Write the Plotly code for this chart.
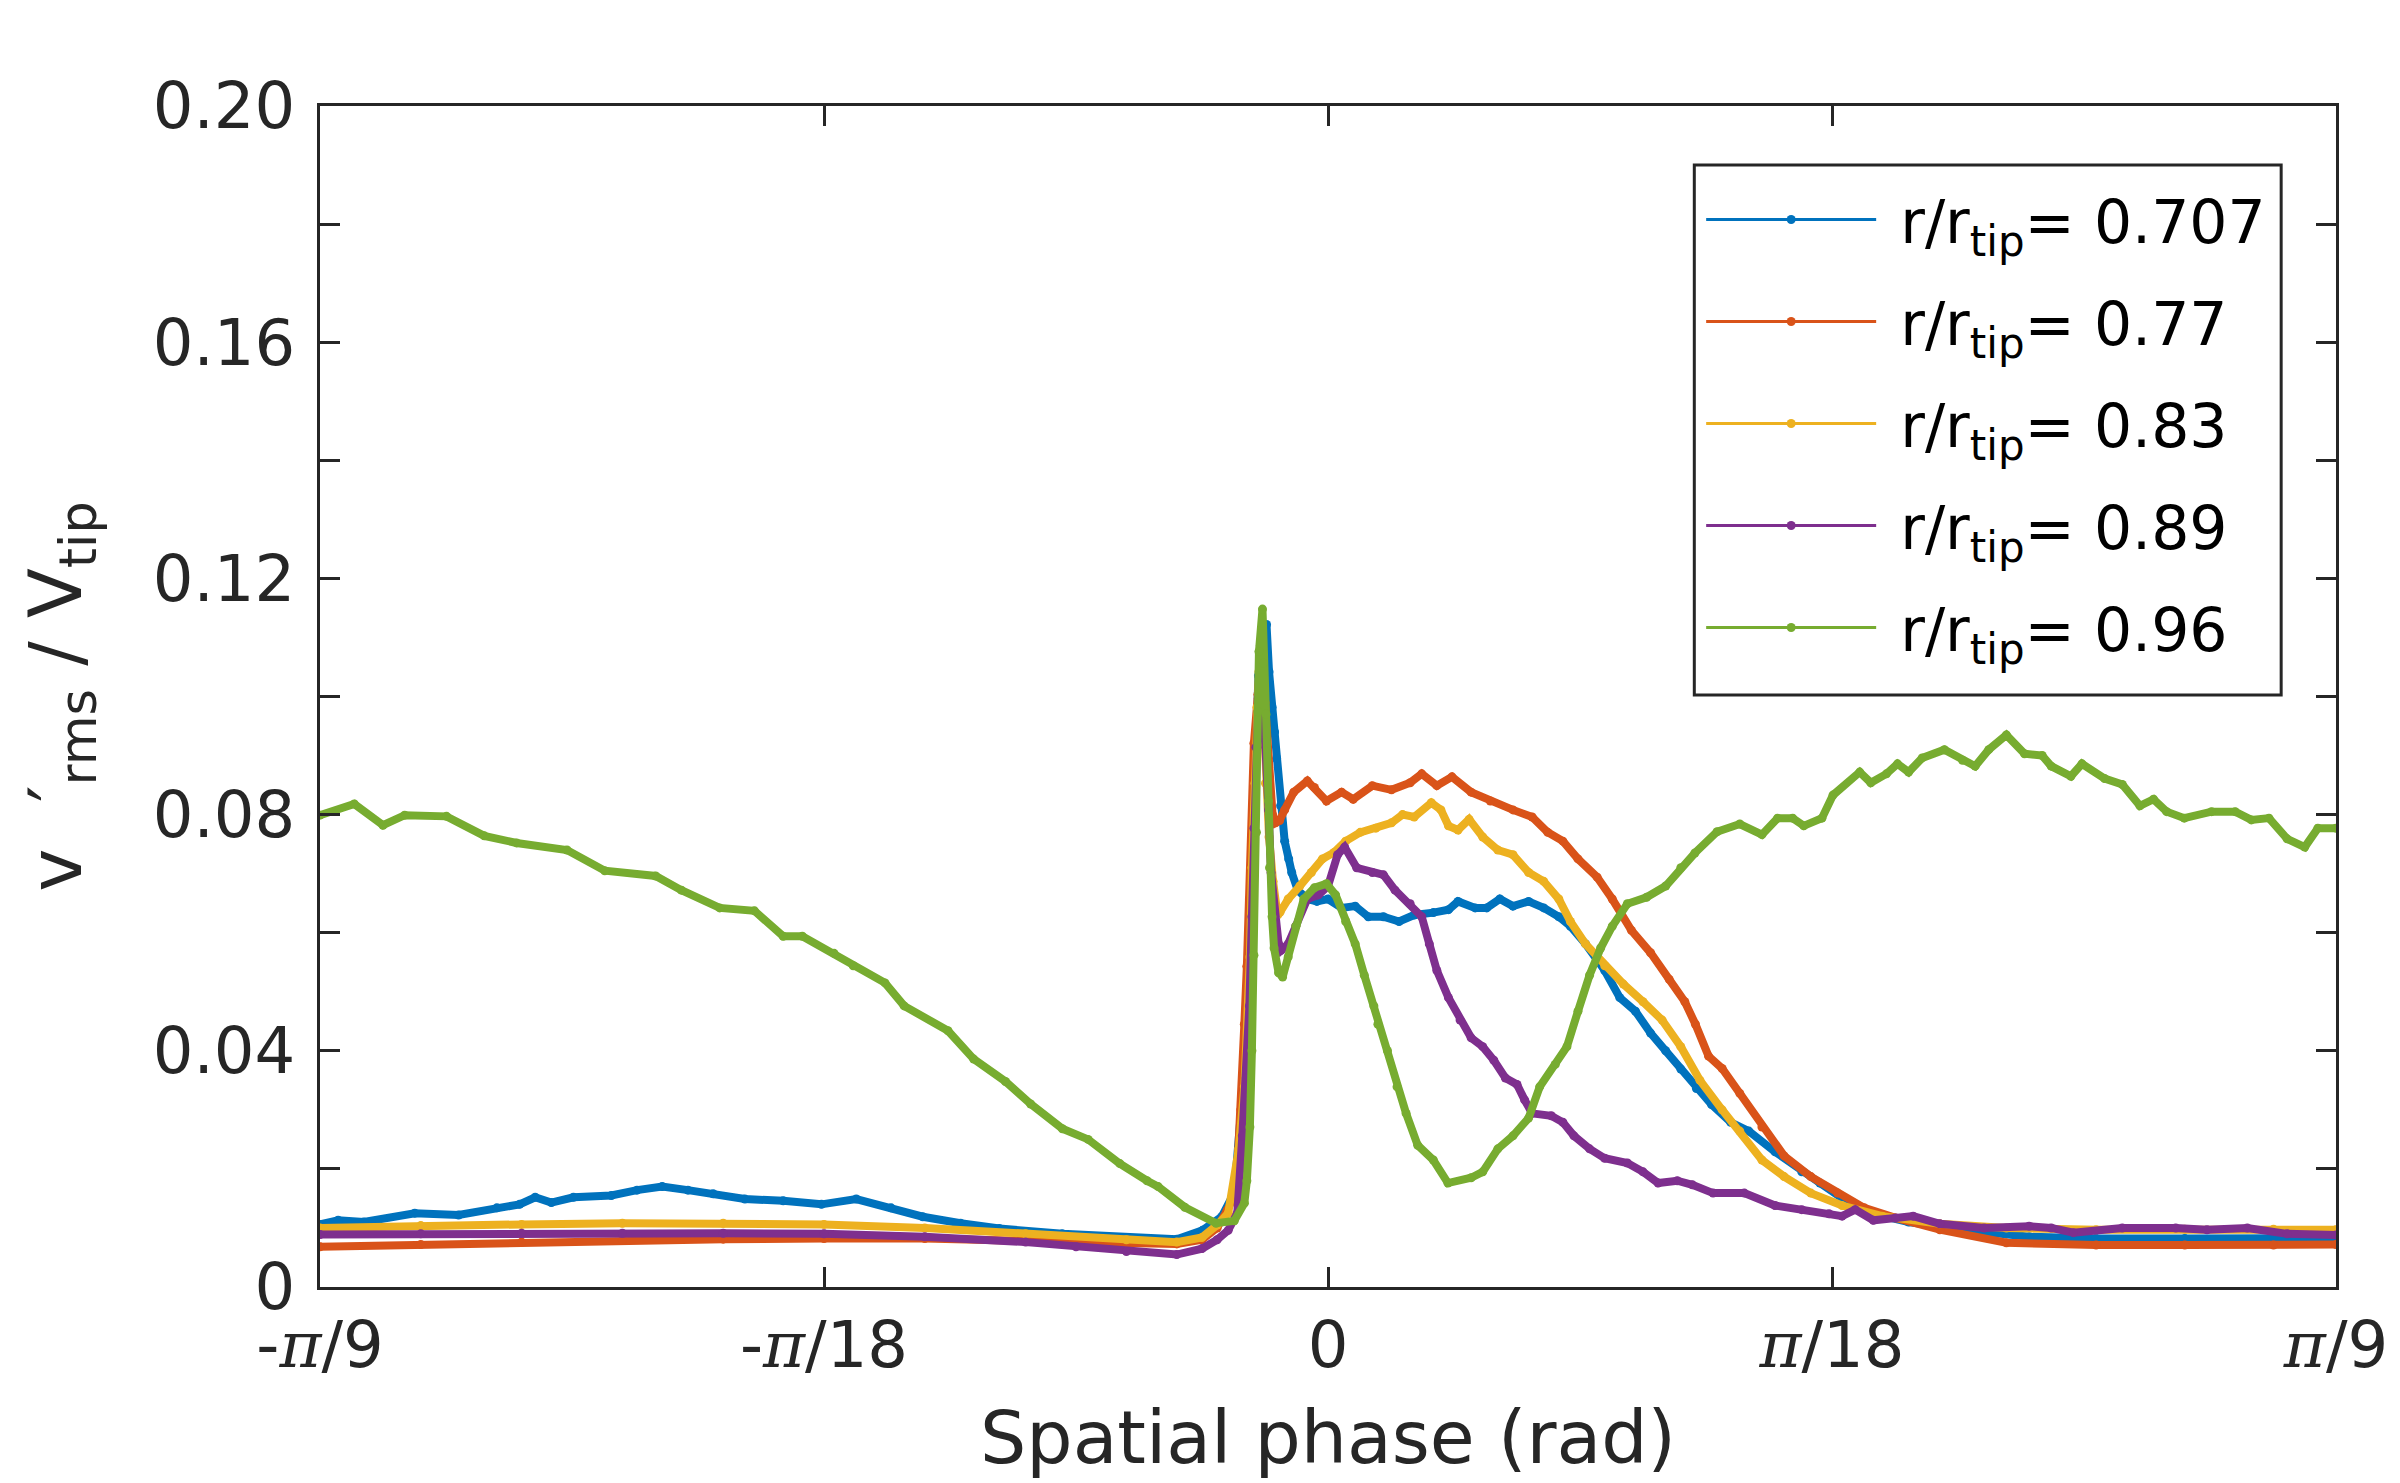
import numpy as np
import plotly.graph_objects as go

# Spatial phase in degrees (converted to radians for plotting), value = v'_rms / V_tip
r0707 = [(-20.0, 0.0106), (-19.64, 0.0113), (-19.13, 0.0110), (-18.12, 0.0125), (-17.25, 0.0122),
         (-16.49, 0.0134), (-16.04, 0.0140), (-15.73, 0.0152), (-15.41, 0.0143), (-14.97, 0.0152),
         (-14.22, 0.0155), (-13.71, 0.0164), (-13.21, 0.0170), (-12.7, 0.0164), (-12.2, 0.0158),
         (-11.57, 0.0149), (-10.81, 0.0146), (-10.05, 0.0140), (-9.36, 0.0149), (-8.67, 0.0134),
         (-8.04, 0.0119), (-7.29, 0.0108), (-6.52, 0.0099), (-5.27, 0.0090), (-4.0, 0.0084),
         (-3.0, 0.0081), (-2.49, 0.0096), (-2.11, 0.0119), (-1.86, 0.0160), (-1.70, 0.0324),
         (-1.61, 0.0476), (-1.53, 0.0702), (-1.45, 0.0914), (-1.38, 0.1035), (-1.30, 0.1099),
         (-1.22, 0.1122), (-1.17, 0.1042), (-1.11, 0.0982), (-1.06, 0.0940), (-1.02, 0.0895),
         (-0.94, 0.0815), (-0.86, 0.0755), (-0.78, 0.0725), (-0.72, 0.0702), (-0.60, 0.0672),
         (-0.41, 0.0657), (-0.22, 0.0653), (0.0, 0.0657), (0.27, 0.0642), (0.54, 0.0645),
         (0.80, 0.0627), (1.1, 0.0627), (1.41, 0.0619), (1.71, 0.0630), (2.09, 0.0634),
         (2.39, 0.0639), (2.58, 0.0653), (2.92, 0.0642), (3.15, 0.0642), (3.41, 0.0657),
         (3.67, 0.0645), (3.98, 0.0653), (4.28, 0.0642), (4.58, 0.0627), (4.81, 0.0611),
         (5.11, 0.0581), (5.49, 0.0536), (5.79, 0.0490), (6.1, 0.0467), (6.4, 0.0430),
         (6.70, 0.0400), (7.0, 0.0369), (7.31, 0.0336), (7.61, 0.0309), (7.99, 0.0279),
         (8.35, 0.0264), (8.87, 0.0229), (9.4, 0.0195), (9.76, 0.0176), (10.29, 0.0145),
         (10.82, 0.0124), (11.52, 0.0110), (12.59, 0.0097), (13.92, 0.0085), (15.24, 0.0082),
         (17.0, 0.0082), (18.76, 0.0082), (20.0, 0.0083)]

r077 = [(-20.0, 0.0068), (-18.0, 0.0072), (-16.0, 0.0076), (-14.0, 0.0079), (-12.0, 0.0081),
        (-10.0, 0.0082), (-8.0, 0.0082), (-6.0, 0.0078), (-4.0, 0.0074), (-3.0, 0.0073),
        (-2.5, 0.0080), (-2.2, 0.0100), (-2.0, 0.0130), (-1.86, 0.0155), (-1.80, 0.0196),
        (-1.73, 0.0300), (-1.66, 0.0445), (-1.61, 0.0543), (-1.56, 0.0657), (-1.51, 0.0762),
        (-1.47, 0.0921), (-1.39, 0.1004), (-1.32, 0.1080), (-1.25, 0.0990), (-1.18, 0.0880),
        (-1.10, 0.0800), (-1.04, 0.0786), (-0.96, 0.0790), (-0.86, 0.0808), (-0.68, 0.0838),
        (-0.41, 0.0857), (-0.27, 0.0846), (-0.03, 0.0823), (0.27, 0.0838), (0.5, 0.0826),
        (0.88, 0.0849), (1.26, 0.0842), (1.63, 0.0854), (1.86, 0.0869), (2.16, 0.0849),
        (2.46, 0.0864), (2.84, 0.0838), (3.22, 0.0823), (3.67, 0.0808), (4.05, 0.0796),
        (4.36, 0.0770), (4.66, 0.0755), (4.96, 0.0725), (5.34, 0.0694), (5.64, 0.0657),
        (6.02, 0.0604), (6.4, 0.0566), (6.77, 0.0521), (7.08, 0.0483), (7.29, 0.0445),
        (7.55, 0.0391), (7.82, 0.0370), (8.17, 0.0328), (8.61, 0.0271), (9.05, 0.0222),
        (9.58, 0.0187), (10.11, 0.0159), (10.64, 0.0134), (11.26, 0.0117), (12.14, 0.0097),
        (13.46, 0.0075), (15.24, 0.0071), (17.0, 0.0071), (18.76, 0.0071), (20.0, 0.0072)]

r083 = [(-20.0, 0.0100), (-18.0, 0.0104), (-16.0, 0.0106), (-14.0, 0.0108), (-12.0, 0.0108),
        (-10.0, 0.0106), (-8.0, 0.0100), (-6.0, 0.0090), (-4.0, 0.0080), (-3.0, 0.0076),
        (-2.5, 0.0084), (-2.2, 0.0105), (-1.98, 0.0125), (-1.77, 0.0234), (-1.66, 0.0339),
        (-1.60, 0.0437), (-1.55, 0.0559), (-1.51, 0.0710), (-1.45, 0.0853), (-1.41, 0.0982),
        (-1.37, 0.1042), (-1.32, 0.1050), (-1.24, 0.0853), (-1.17, 0.0762), (-1.09, 0.0687),
        (-1.02, 0.0642), (-0.95, 0.0635), (-0.79, 0.0657), (-0.56, 0.0679), (-0.33, 0.0702),
        (-0.11, 0.0725), (0.12, 0.0736), (0.35, 0.0755), (0.64, 0.0770), (0.95, 0.0777),
        (1.26, 0.0786), (1.48, 0.0800), (1.71, 0.0796), (2.05, 0.0820), (2.24, 0.0808),
        (2.39, 0.0781), (2.58, 0.0774), (2.8, 0.0792), (3.07, 0.0762), (3.37, 0.0740),
        (3.67, 0.0732), (3.98, 0.0702), (4.28, 0.0687), (4.58, 0.0657), (4.81, 0.0619),
        (5.11, 0.0581), (5.49, 0.0544), (5.86, 0.0513), (6.25, 0.0483), (6.63, 0.0452),
        (7.0, 0.0407), (7.38, 0.0350), (7.82, 0.0300), (8.17, 0.0264), (8.61, 0.0215),
        (9.05, 0.0187), (9.58, 0.0159), (10.2, 0.0138), (11.0, 0.0120), (12.14, 0.0107),
        (13.46, 0.0100), (15.24, 0.0097), (17.0, 0.0098), (18.76, 0.0098), (20.0, 0.0097)]

r089 = [(-20.0, 0.0089), (-18.0, 0.0090), (-16.0, 0.0091), (-14.0, 0.0091), (-12.0, 0.0091),
        (-10.0, 0.0090), (-8.0, 0.0085), (-6.0, 0.0076), (-5.0, 0.0068), (-4.0, 0.0060),
        (-3.0, 0.0055), (-2.5, 0.0065), (-2.2, 0.0080), (-1.98, 0.0096), (-1.8, 0.0125),
        (-1.70, 0.0256), (-1.62, 0.0354), (-1.56, 0.0476), (-1.51, 0.0627), (-1.47, 0.0777),
        (-1.43, 0.0914), (-1.38, 0.0997), (-1.34, 0.1087), (-1.28, 0.0997), (-1.23, 0.0914),
        (-1.18, 0.0808), (-1.13, 0.0702), (-1.06, 0.0627), (-0.98, 0.0581), (-0.93, 0.0570),
        (-0.79, 0.0581), (-0.64, 0.0611), (-0.41, 0.0657), (-0.19, 0.0664), (0.0, 0.0679),
        (0.19, 0.0732), (0.33, 0.0745), (0.57, 0.0710), (0.88, 0.0702), (1.1, 0.0698),
        (1.33, 0.0672), (1.63, 0.0649), (1.86, 0.0627), (2.01, 0.0581), (2.16, 0.0536),
        (2.39, 0.0490), (2.62, 0.0452), (2.84, 0.0422), (3.07, 0.0407), (3.29, 0.0384),
        (3.52, 0.0354), (3.75, 0.0343), (3.9, 0.0317), (4.05, 0.0294), (4.43, 0.0290),
        (4.66, 0.0279), (4.88, 0.0256), (5.19, 0.0234), (5.49, 0.0218), (5.94, 0.0210),
        (6.25, 0.0195), (6.55, 0.0176), (6.93, 0.0180), (7.23, 0.0173), (7.64, 0.0159),
        (8.26, 0.0159), (8.87, 0.0138), (9.4, 0.0131), (9.94, 0.0124), (10.2, 0.0120),
        (10.46, 0.0131), (10.82, 0.0113), (11.26, 0.0117), (11.61, 0.0120), (12.14, 0.0107),
        (13.02, 0.0100), (13.91, 0.0103), (14.35, 0.0100), (14.79, 0.0092), (15.76, 0.0100),
        (16.82, 0.0100), (17.44, 0.0097), (18.24, 0.0100), (19.03, 0.0090), (20.0, 0.0088)]

r096 = [(-20.0, 0.0799), (-19.32, 0.0818), (-18.75, 0.0782), (-18.32, 0.0799), (-17.49, 0.0797),
        (-16.74, 0.0764), (-16.1, 0.0752), (-15.1, 0.0740), (-14.35, 0.0705), (-13.34, 0.0696),
        (-12.83, 0.0672), (-12.07, 0.0642), (-11.38, 0.0637), (-10.81, 0.0594), (-10.43, 0.0594),
        (-9.8, 0.0565), (-9.42, 0.0544), (-8.79, 0.0515), (-8.41, 0.0476), (-7.54, 0.0434),
        (-7.03, 0.0386), (-6.4, 0.0348), (-5.9, 0.0310), (-5.27, 0.0268), (-4.76, 0.0250),
        (-4.13, 0.0209), (-3.59, 0.0180), (-3.37, 0.0170), (-2.84, 0.0135), (-2.22, 0.0108),
        (-1.86, 0.0112), (-1.66, 0.0142), (-1.61, 0.0180), (-1.55, 0.0271), (-1.51, 0.0400),
        (-1.47, 0.0562), (-1.42, 0.0770), (-1.39, 0.0974), (-1.37, 0.1076), (-1.30, 0.1148),
        (-1.28, 0.1057), (-1.23, 0.0970), (-1.18, 0.0823), (-1.16, 0.0710), (-1.11, 0.0627),
        (-1.07, 0.0574), (-0.98, 0.0532), (-0.90, 0.0525), (-0.79, 0.0559), (-0.64, 0.0611),
        (-0.48, 0.0657), (-0.27, 0.0676), (-0.03, 0.0683), (0.15, 0.0664), (0.35, 0.0619),
        (0.54, 0.0581), (0.72, 0.0528), (0.91, 0.0476), (0.99, 0.0445), (1.18, 0.0400),
        (1.37, 0.0339), (1.55, 0.0294), (1.78, 0.0240), (2.09, 0.0215), (2.38, 0.0176),
        (2.84, 0.0185), (3.07, 0.0195), (3.37, 0.0234), (3.67, 0.0256), (3.98, 0.0286),
        (4.2, 0.0339), (4.51, 0.0377), (4.74, 0.0407), (4.96, 0.0467), (5.19, 0.0528),
        (5.41, 0.0574), (5.64, 0.0611), (5.94, 0.0649), (6.32, 0.0660), (6.70, 0.0679),
        (7.0, 0.0710), (7.28, 0.0735), (7.72, 0.0771), (8.17, 0.0784), (8.61, 0.0766),
        (8.92, 0.0794), (9.22, 0.0794), (9.44, 0.0781), (9.8, 0.0794), (10.02, 0.0833),
        (10.55, 0.0872), (10.77, 0.0854), (11.08, 0.0869), (11.3, 0.0886), (11.52, 0.0872),
        (11.79, 0.0896), (12.23, 0.0910), (12.59, 0.0892), (12.84, 0.0882), (13.11, 0.0910),
        (13.46, 0.0935), (13.82, 0.0903), (14.17, 0.0900), (14.35, 0.0882), (14.74, 0.0865),
        (14.96, 0.0886), (15.41, 0.0861), (15.76, 0.0851), (16.11, 0.0815), (16.38, 0.0826),
        (16.64, 0.0805), (16.99, 0.0794), (17.53, 0.0805), (18.0, 0.0805), (18.32, 0.0791),
        (18.67, 0.0794), (19.03, 0.0759), (19.38, 0.0745), (19.64, 0.0777), (20.0, 0.0777)]

series_names = ["r/r<sub>tip</sub>= 0.707", "r/r<sub>tip</sub>= 0.77", "r/r<sub>tip</sub>= 0.83",
                "r/r<sub>tip</sub>= 0.89", "r/r<sub>tip</sub>= 0.96"]
series_data = [r0707, r077, r083, r089, r096]
colors = ["#0072BD", "#D95319", "#EDB120", "#7E2F8E", "#77AC30"]

PI = "<span style=\"font-family:'DejaVu Serif'\"><i>π</i></span>"
x_tickvals = [-np.pi / 9, -np.pi / 18, 0, np.pi / 18, np.pi / 9]
x_ticktext = ["-" + PI + "/9", "-" + PI + "/18", "0", PI + "/18", PI + "/9"]
y_tickvals = [0, 0.02, 0.04, 0.06, 0.08, 0.10, 0.12, 0.14, 0.16, 0.18, 0.20]
y_ticktext = ["0", "", "0.04", "", "0.08", "", "0.12", "", "0.16", "", "0.20"]

AX = "#262626"
fig = go.Figure()
for i, (name, data, col) in enumerate(zip(series_names, series_data, colors)):
    deg = np.array([p[0] for p in data])
    val = np.array([p[1] for p in data])
    fig.add_trace(go.Scatter(
        x=np.deg2rad(deg), y=val, mode="lines+markers", name=name,
        legendgroup=f"g{i}", showlegend=False,
        line=dict(color=col, width=8), marker=dict(color=col, size=9),
    ))
    # legend entry (thin line with a dot, as in the original legend)
    fig.add_trace(go.Scatter(
        x=[None], y=[None], mode="lines+markers", name="\u00a0" + name,
        legendgroup=f"g{i}", showlegend=True,
        line=dict(color=col, width=3), marker=dict(color=col, size=9),
    ))

# legend frame
fig.add_shape(type="rect", xref="paper", yref="paper",
              x0=0.6817, x1=0.9728, y0=0.5013, y1=0.9500,
              line=dict(color=AX, width=3), fillcolor="white", layer="above")

fig.update_layout(
    width=2400, height=1483,
    margin=dict(l=320, r=57, t=106, b=196),
    paper_bgcolor="white", plot_bgcolor="white",
    font=dict(family="DejaVu Sans", color=AX, size=64),
    legend=dict(x=0.6851, y=0.9424, xanchor="left", yanchor="top",
                borderwidth=0, bgcolor="rgba(0,0,0,0)",
                font=dict(size=60, color="black"), itemwidth=170, tracegroupgap=21),
)
fig.update_xaxes(
    range=[-np.pi / 9, np.pi / 9], tickvals=x_tickvals, ticktext=x_ticktext,
    ticks="inside", ticklen=20, tickwidth=3, tickcolor=AX,
    showline=True, linewidth=3, linecolor=AX, mirror="allticks",
    showgrid=False, zeroline=False,
    tickfont=dict(size=64, color=AX),
    title=dict(text="Spatial phase (rad)", font=dict(size=73, color=AX), standoff=32),
)
fig.update_yaxes(
    range=[0, 0.2], tickvals=y_tickvals, ticktext=y_ticktext,
    ticks="inside", ticklen=20, tickwidth=3, tickcolor=AX,
    showline=True, linewidth=3, linecolor=AX, mirror="allticks",
    showgrid=False, zeroline=False, ticklabelstandoff=9,
    tickfont=dict(size=64, color=AX),
    title=dict(text="v\u00a0\u00a0′<sub>rms</sub> / V<sub>tip</sub>", font=dict(size=73, color=AX), standoff=48),
)

fig.write_html("out.html")
